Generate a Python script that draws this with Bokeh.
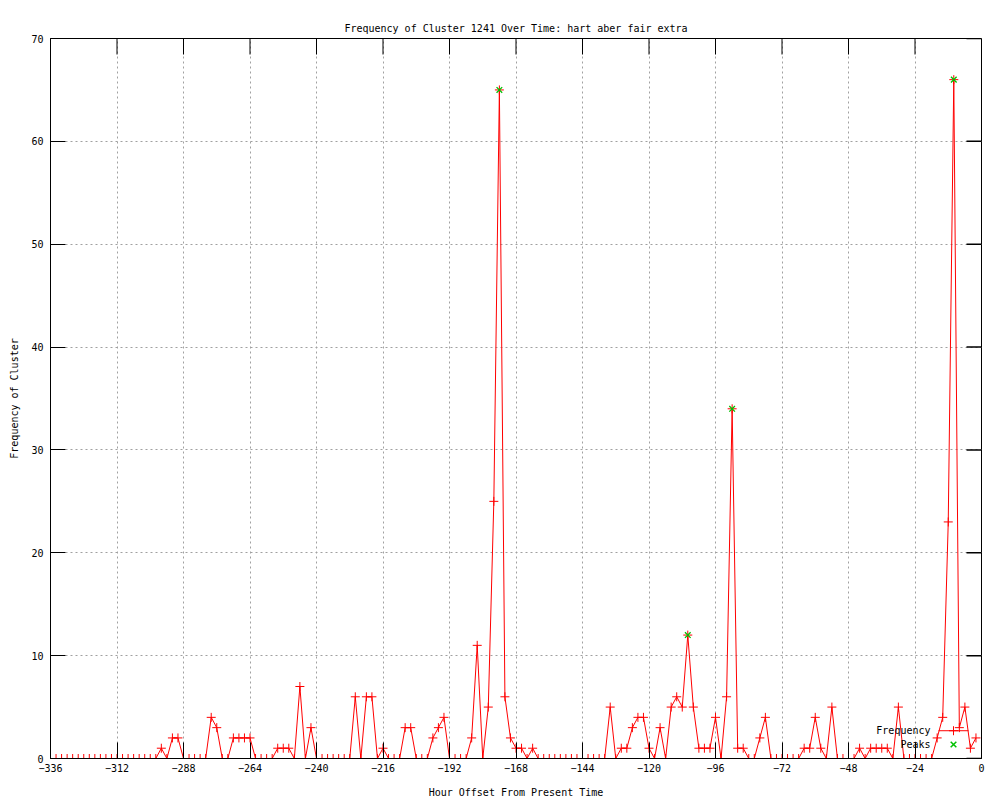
import math
from bokeh.plotting import figure
from bokeh.models import Range1d, FixedTicker, Label
from bokeh.embed import file_html
from bokeh.resources import INLINE

# ---------------- data ----------------
TITLE = "Frequency of Cluster 1241 Over Time: hart aber fair extra"
X_LABEL = "Hour Offset From Present Time"
Y_LABEL = "Frequency of Cluster"

hours = list(range(-336, 0, 2))          # sampling grid, every 2 hours
frequency = [
    0, 0, 0, 0, 0, 0, 0, 0, 0, 0, 0, 0,          # -336 .. -314
    0, 0, 0, 0, 0, 0, 0, 0, 1, 0, 2, 2,          # -312 .. -290
    0, 0, 0, 0, 0, 4, 3, 0, 0, 2, 2, 2,          # -288 .. -266
    2, 0, 0, 0, 0, 1, 1, 1, 0, 7, 0, 3,          # -264 .. -242
    0, 0, 0, 0, 0, 0, 0, 6, 0, 6, 6, 0,          # -240 .. -218
    1, 0, 0, 0, 3, 3, 0, 0, 0, 2, 3, 4,          # -216 .. -194
    0, 0, 0, 0, 2, 11, 0, 5, 25, 65, 6, 2,       # -192 .. -170
    1, 1, 0, 1, 0, 0, 0, 0, 0, 0, 0, 0,          # -168 .. -146
    0, 0, 0, 0, 0, 5, 0, 1, 1, 3, 4, 4,          # -144 .. -122
    1, 0, 3, 0, 5, 6, 5, 12, 5, 1, 1, 1,         # -120 .. -98
    4, 0, 6, 34, 1, 1, 0, 0, 2, 4, 0, 0,         # -96 .. -74
    0, 0, 0, 0, 1, 1, 4, 1, 0, 5, 0, 0,          # -72 .. -50
    0, 0, 1, 0, 1, 1, 1, 1, 0, 5, 0, 0,          # -48 .. -26
    0, 0, 0, 0, 2, 4, 23, 66, 3, 5, 1, 2,        # -24 .. -2
]
peak_hours = [-174, -106, -90, -10]
peak_values = [65, 12, 34, 66]

x_ticks = [-336, -312, -288, -264, -240, -216, -192, -168, -144, -120, -96, -72, -48, -24, 0]
y_ticks = [0, 10, 20, 30, 40, 50, 60, 70]
series_names = ["Frequency", "Peaks"]

X_MIN, X_MAX = -336, 0
Y_MIN, Y_MAX = 0, 70

# ---------------- style ----------------
FONT = "DejaVu Sans Mono"
FS = "10px"
RED = "#ff0000"
GREEN = "#00c000"
GRID = "#a0a0a0"

p = figure(width=1000, height=800,
           x_range=Range1d(X_MIN, X_MAX), y_range=Range1d(Y_MIN, Y_MAX),
           output_backend="svg", toolbar_location=None,
           title=TITLE, x_axis_label=X_LABEL, y_axis_label=Y_LABEL,
           min_border_left=50, min_border_right=19,
           min_border_top=38, min_border_bottom=40)
p.background_fill_color = "white"
p.border_fill_color = "white"
p.outline_line_color = "black"
p.outline_line_width = 1

p.title.align = "center"
p.title.text_font = FONT
p.title.text_font_size = FS
p.title.text_font_style = "normal"
p.title.text_color = "black"

xt = FixedTicker(ticks=x_ticks, minor_ticks=[])
yt = FixedTicker(ticks=y_ticks, minor_ticks=[])


def style_axis(ax, tick_len):
    ax.axis_line_color = "black"
    ax.axis_line_width = 1
    ax.major_tick_in = tick_len
    ax.major_tick_out = 0
    ax.minor_tick_in = 0
    ax.minor_tick_out = 0
    ax.major_tick_line_color = "black"
    ax.major_label_text_font = FONT
    ax.major_label_text_font_size = FS
    ax.major_label_text_color = "black"
    ax.axis_label_text_font = FONT
    ax.axis_label_text_font_size = FS
    ax.axis_label_text_font_style = "normal"
    ax.axis_label_text_color = "black"


xa = p.xaxis[0]
xa.ticker = xt
style_axis(xa, 16)
xa.major_label_standoff = 5
xa.axis_label_standoff = 12

ya = p.yaxis[0]
ya.ticker = yt
style_axis(ya, 15)
ya.major_label_standoff = 7
ya.axis_label_standoff = 8

# mirrored ticks on the top and right edges (gnuplot "mirror")
p.ray(x=x_ticks, y=[Y_MAX] * len(x_ticks), length=16, angle=-math.pi / 2,
      length_units="screen", line_color="black", line_width=1)
p.ray(x=[X_MAX] * len(y_ticks), y=y_ticks, length=15, angle=math.pi,
      length_units="screen", line_color="black", line_width=1.5)

for g, t in ((p.xgrid[0], xt), (p.ygrid[0], yt)):
    g.ticker = t
    g.grid_line_color = GRID
    g.grid_line_dash = "2 3"
    g.grid_line_width = 1

# ---------------- data marks ----------------
p.line(hours, frequency, line_color=RED, line_width=1)
p.scatter(hours, frequency, marker="cross", size=9, line_color=RED, line_width=1)
p.scatter(peak_hours, peak_values, marker="x", size=8, line_color=GREEN, line_width=1.3)

# ---------------- key (gnuplot style: label left, sample right) ----------------
KEY_TEXT_X = -18.4
KEY_SAMPLE_X0, KEY_SAMPLE_X1, KEY_SAMPLE_XC = -15.5, -4.7, -10.1
KEY_ROW_Y = [2.7, 1.36]

p.line([KEY_SAMPLE_X0, KEY_SAMPLE_X1], [KEY_ROW_Y[0], KEY_ROW_Y[0]], line_color=RED, line_width=1)
p.scatter([KEY_SAMPLE_XC], [KEY_ROW_Y[0]], marker="cross", size=9, line_color=RED)
p.scatter([KEY_SAMPLE_XC], [KEY_ROW_Y[1]], marker="x", size=8, line_color=GREEN, line_width=1.5)
for name, yy in zip(series_names, KEY_ROW_Y):
    p.add_layout(Label(x=KEY_TEXT_X, y=yy, text=name, text_align="right",
                       text_baseline="middle", text_font=FONT, text_font_size=FS,
                       text_color="black"))

open("out.html", "w").write(file_html(p, INLINE))
